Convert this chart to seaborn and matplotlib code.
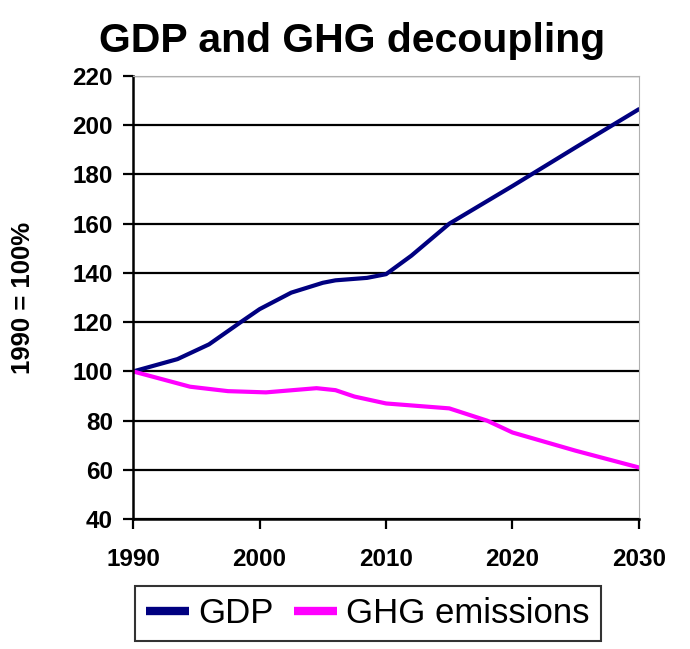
import pandas as pd
import numpy as np
import seaborn as sns
import matplotlib.pyplot as plt

# values (1990 = 100)
gdp_years = [1990, 1993.5, 1996, 1998.5, 2000, 2002.5, 2005, 2006, 2008.5, 2010, 2012, 2015, 2020, 2025, 2030]
gdp_vals = [100, 105, 111, 120, 125.3, 132, 136, 137, 138, 139.5, 147, 160, 175.3, 191, 206.5]

ghg_years = [1990, 1994.5, 1997.5, 2000.5, 2004.5, 2006, 2007.5, 2010, 2015, 2018, 2020, 2025, 2030]
ghg_vals = [100, 93.8, 92, 91.5, 93.2, 92.4, 89.8, 87, 85, 80, 75.2, 67.8, 61]

series_names = ['GDP', 'GHG emissions']
colors = ['#000080', '#FF00FF']

df = pd.concat([
	pd.DataFrame({'year': gdp_years, 'value': gdp_vals, 'series': series_names[0]}),
	pd.DataFrame({'year': ghg_years, 'value': ghg_vals, 'series': series_names[1]}),
])

sns.set_style('white')
plt.rcParams['font.family'] = ['Liberation Sans', 'DejaVu Sans']
plt.rcParams['text.color'] = 'black'
plt.rcParams['xtick.color'] = 'black'
plt.rcParams['ytick.color'] = 'black'
plt.rcParams['axes.labelcolor'] = 'black'

fig = plt.figure(figsize=(6.9, 6.49), dpi=100)
ax = fig.add_axes([0.193, 0.2, 0.733, 0.683])

sns.lineplot(data=df, x='year', y='value', hue='series', palette=colors,
	linewidth=3.0, ax=ax, legend=False, estimator=None, sort=False)
for l in ax.lines:
	l.set_solid_joinstyle('round')
	l.set_solid_capstyle('round')

ax.set_xlim(1990, 2030)
ax.set_ylim(40, 220)
ax.set_xticks(range(1990, 2031, 10))
ax.set_yticks(range(40, 221, 20))
ax.yaxis.grid(True, color='black', linewidth=1.6)
ax.set_axisbelow(True)

for lab in ax.get_xticklabels() + ax.get_yticklabels():
	lab.set_fontweight('bold')
	lab.set_fontsize(17.5)
ax.tick_params(axis='both', direction='out', length=7.5, width=1.6, left=True, bottom=True)
ax.tick_params(axis='x', pad=13)
ax.tick_params(axis='y', pad=7)

ax.spines['left'].set_color('black')
ax.spines['left'].set_linewidth(1.8)
ax.spines['bottom'].set_color('black')
ax.spines['bottom'].set_linewidth(1.8)
ax.spines['top'].set_color('#b0b0b0')
ax.spines['right'].set_color('#b0b0b0')

ax.set_xlabel('')
ax.set_ylabel('')
fig.text(23 / 690, 0.5 * (0.2 + 0.883), '1990 = 100%', rotation=90, fontsize=18.5,
	fontweight='bold', ha='center', va='center')
fig.text(352 / 690, 1 - 52 / 649, 'GDP and GHG decoupling', fontsize=29.5,
	fontweight='bold', ha='center', va='baseline')

handles = [plt.Line2D([], [], color=c, linewidth=6, solid_capstyle='butt') for c in colors]
leg = fig.legend(handles, series_names, loc='center', bbox_to_anchor=(0.533, 0.0547), ncol=2,
	fontsize=25, frameon=True, fancybox=False, edgecolor='black', handlelength=1.25,
	handletextpad=0.26, columnspacing=0.58, borderpad=0.32, borderaxespad=0)
leg.get_frame().set_linewidth(1.5)

fig.savefig('out.png', dpi=100)
